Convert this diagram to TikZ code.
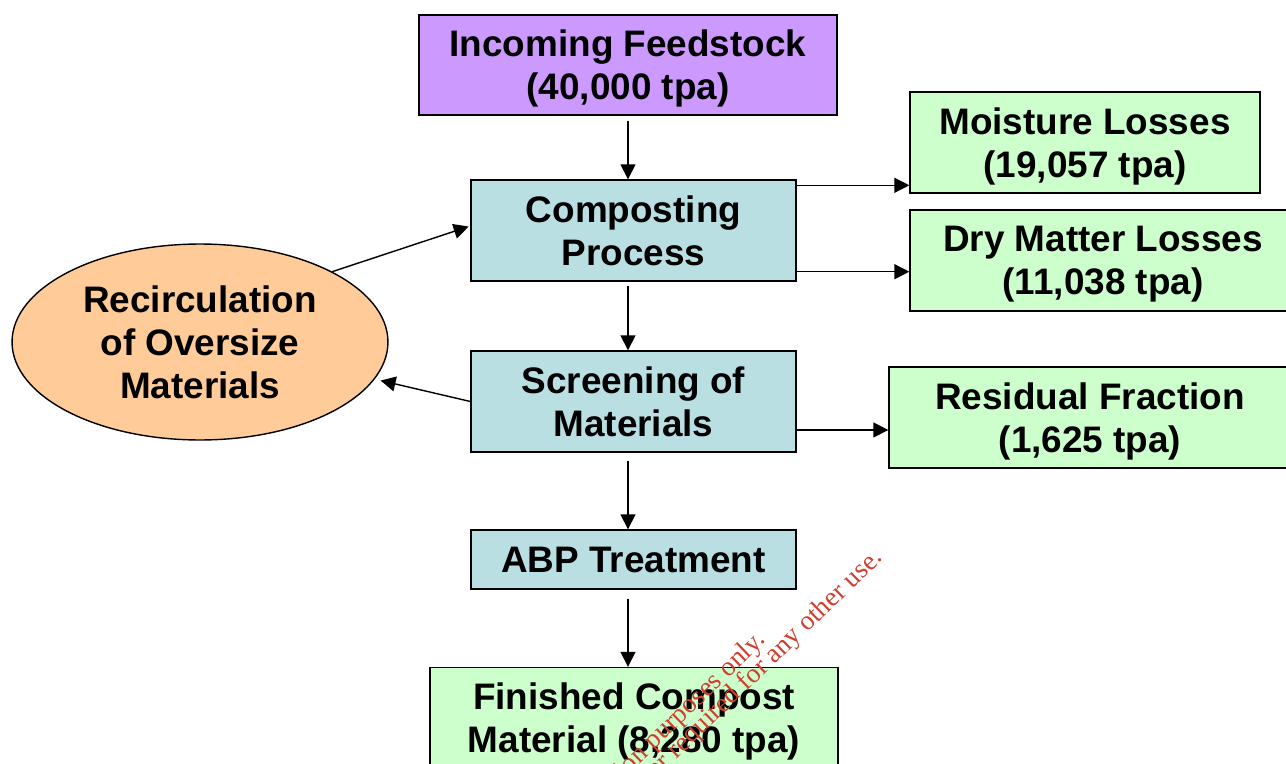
\documentclass[tikz,border=0pt]{standalone}
\usepackage{fontspec}
\setmainfont{Liberation Sans}
\newfontfamily\stampfont{Liberation Serif}
\usepackage{tikz}
\usetikzlibrary{arrows.meta}
\usetikzlibrary{shapes.geometric}

\definecolor{feedpurple}{HTML}{CC99FF}
\definecolor{stageblue}{HTML}{B9DFE3}
\definecolor{outgreen}{HTML}{CCFFCC}
\definecolor{looporange}{HTML}{FFCC99}
\definecolor{stampred}{HTML}{CF3F2E}

\begin{document}
\begin{tikzpicture}[x=0.02cm, y=-0.02cm]
\tikzset{stage/.style = {shape=rectangle, draw, line width=0.8pt, inner sep=2pt, align=center, font=\fontsize{21}{24.4}\selectfont\bfseries}}
\tikzset{tally/.style = {stage, text depth=0pt}}
\tikzset{edge/.style = {-{Triangle[length=8.5pt,width=8.5pt]}, line width=0.8pt}}
\tikzset{stamp/.style = {text=stampred, font=\stampfont\fontsize{15.5}{18}\selectfont, rotate=44, anchor=base east, inner sep=0pt}}
\useasboundingbox (0,0) rectangle (1286,764);
\clip (0,0) rectangle (1286,764);
% main line
\node[tally, fill=feedpurple, minimum width=8.36cm, minimum height=2cm](feed) at (628,65) {Incoming Feedstock\\(40,000 tpa)};
\node[stage, fill=stageblue, minimum width=6.5cm, minimum height=2.02cm](comp) at (633.5,230.5) {Composting\\Process};
\node[stage, fill=stageblue, minimum width=6.5cm, minimum height=2.02cm](screen) at (633.5,401.5) {Screening of\\Materials};
\node[stage, fill=stageblue, minimum width=6.5cm, minimum height=1.18cm](abp) at (633.5,559.5) {ABP Treatment};
\node[tally, fill=outgreen, minimum width=8.16cm, minimum height=2.02cm](final) at (634,718) {Finished Compost\\Material (8,280 tpa)};
% side outputs
\node[tally, fill=outgreen, minimum width=7cm, minimum height=2.02cm](moist) at (1085,142.5) {Moisture Losses\\(19,057 tpa)};
\node[tally, fill=outgreen, minimum width=7.72cm, minimum height=2.02cm](dry) at (1103,260.5) {Dry Matter Losses\\(11,038 tpa)};
\node[tally, fill=outgreen, minimum width=8.04cm, minimum height=2.02cm](resid) at (1090,417.5) {Residual Fraction\\(1,625 tpa)};
\node[stage, shape=ellipse, inner sep=0pt, fill=looporange, minimum width=7.52cm, minimum height=3.92cm](recirc) at (200,342) {Recirculation\\of Oversize\\Materials};
% flows down
\draw[edge, shorten <=0.1cm] (feed.south) -- (comp.north -| feed.south);
\draw[edge, shorten <=0.08cm] (comp.south -| feed.south) -- (screen.north -| feed.south);
\draw[edge, shorten <=0.16cm] (screen.south -| feed.south) -- (abp.north -| feed.south);
\draw[edge, shorten <=0.18cm] (abp.south -| feed.south) -- (final.north -| feed.south);
% flows out
\coordinate (moistout) at ([yshift=-0.12cm]comp.north east);
\coordinate (dryout) at ([yshift=0.2cm]comp.south east);
\coordinate (residout) at ([yshift=-0.57cm]screen.east);
\draw[edge] (moistout) -- (moistout -| moist.west);
\draw[edge] (dryout) -- (dryout -| dry.west);
\draw[edge] (residout) -- (residout -| resid.west);
% oversize loop
\draw[edge, shorten >=1pt] (recirc.28) -- ([yshift=0.09cm]comp.west);
\draw[edge, shorten >=0.12cm] (screen.west) -- (recirc.-12);
% stamp
\node[stamp](stamp1) at (767,641) {For inspection purposes only.};
\node[stamp](stamp2) at (884,559) {Consent of copyright owner required for any other use.};
\end{tikzpicture}
\end{document}
